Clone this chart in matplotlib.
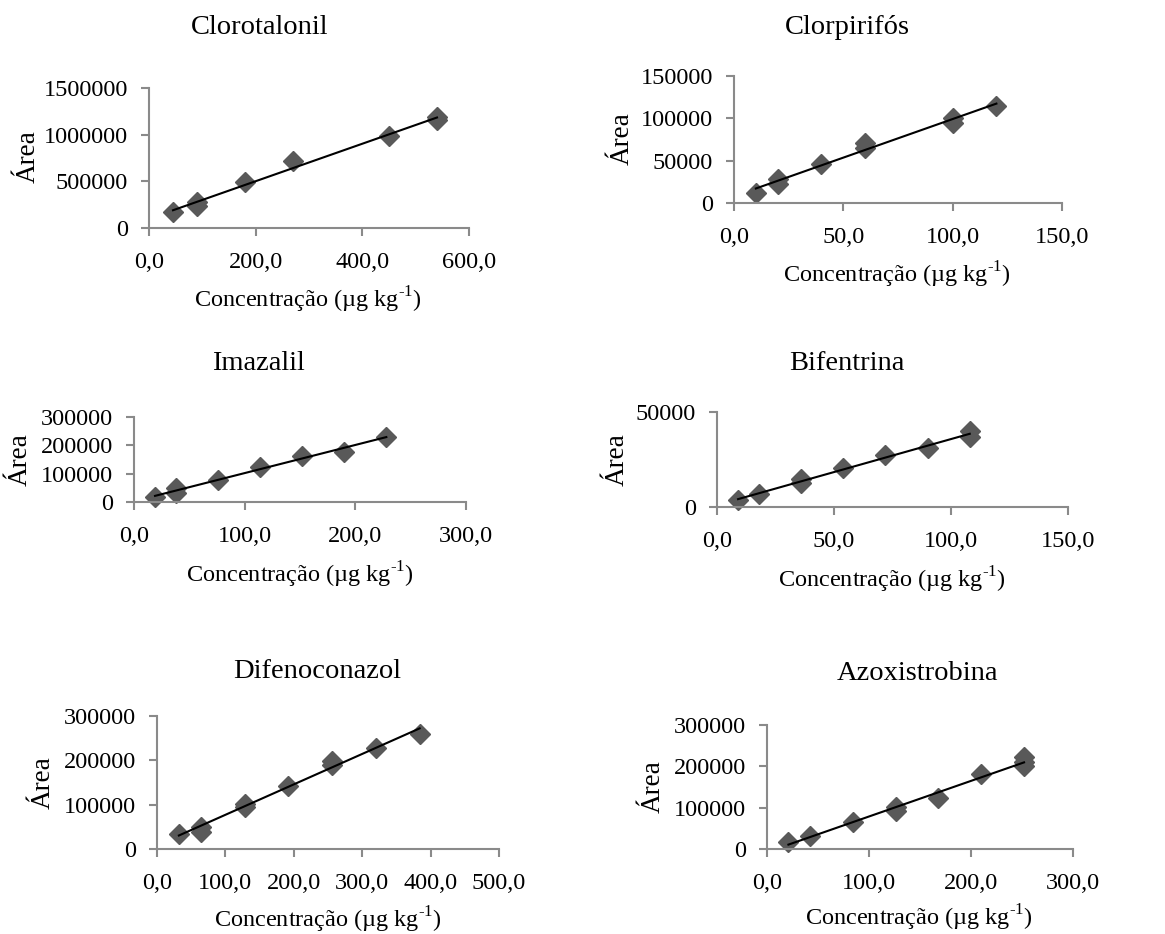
import numpy as np
import matplotlib
matplotlib.use('Agg')
import matplotlib.pyplot as plt
from matplotlib.ticker import FuncFormatter, MultipleLocator

plt.rcParams['font.family'] = ['Liberation Serif', 'DejaVu Serif']
plt.rcParams['mathtext.fontset'] = 'custom'
plt.rcParams['mathtext.rm'] = 'Liberation Serif'

# calibration data: concentration (ug/kg) and peak area, replicates repeated
titles = ['Clorotalonil', 'Clorpirifós', 'Imazalil', 'Bifentrina', 'Difenoconazol', 'Azoxistrobina']

clorotalonil_x = [45, 90, 90, 180, 270, 450, 540, 540]
clorotalonil_y = [171000, 280000, 235000, 490000, 721000, 989000, 1185000, 1155000]

clorpirifos_x = [10, 20, 20, 40, 60, 60, 100, 100, 120]
clorpirifos_y = [11800, 28800, 22000, 46600, 71000, 65500, 99900, 94700, 115000]

imazalil_x = [19, 38, 38, 76, 114, 152, 190, 228]
imazalil_y = [19000, 48000, 31000, 78000, 122000, 164000, 178000, 231000]

bifentrina_x = [9, 18, 36, 36, 54, 72, 90, 108, 108]
bifentrina_y = [3500, 7000, 14500, 12800, 20500, 27500, 31000, 40000, 36800]

difenoconazol_x = [32, 64, 64, 128, 128, 192, 256, 256, 320, 384]
difenoconazol_y = [33000, 50000, 39000, 102000, 95000, 143000, 199000, 190000, 227000, 259000]

azoxistrobina_x = [21, 42, 84, 126, 126, 168, 210, 252, 252, 252]
azoxistrobina_y = [17000, 30600, 65000, 101000, 92000, 124000, 182000, 222000, 210000, 202000]

xs = [clorotalonil_x, clorpirifos_x, imazalil_x, bifentrina_x, difenoconazol_x, azoxistrobina_x]
ys = [clorotalonil_y, clorpirifos_y, imazalil_y, bifentrina_y, difenoconazol_y, azoxistrobina_y]

x_max = [600, 150, 300, 150, 500, 300]
x_step = [200, 50, 100, 50, 100, 100]
y_max = [1500000, 150000, 300000, 50000, 300000, 300000]
y_step = [500000, 50000, 100000, 50000, 100000, 100000]

W, H = 1165, 934

# axes boxes in pixels: left, right, top, bottom
boxes = [(149, 469, 88, 228), (734, 1062, 76, 203),
         (134, 466, 417, 502), (717, 1068, 412, 507),
         (157, 499, 716, 849), (767, 1073, 725, 849)]
title_pos = [(260, 28), (847, 27), (258, 363), (847, 363), (317, 672), (917, 673)]
xlabel_pos = [(308, 300), (897, 275), (300, 575), (892, 580), (328, 920), (919, 918)]
ylabel_pos = [(28, 157), (622, 139), (20, 460), (617, 460), (43, 783), (653, 787)]

xlabel_text = 'Concentração (µg kg$^{\\mathregular{\u2010}\\mathregular{1}}$)'

fig = plt.figure(figsize=(W / 100, H / 100), dpi=100)
axis_gray = '#8a8a8a'

for i in range(6):
    l, r, t, b = boxes[i]
    ax = fig.add_axes([l / W, 1 - b / H, (r - l) / W, (b - t) / H])
    x = np.array(xs[i], dtype=float)
    y = np.array(ys[i], dtype=float)

    ax.plot(x, y, linestyle='none', marker='D', ms=10.5, color='#595959',
            markeredgecolor='#595959', clip_on=False, zorder=2)
    slope, inter = np.polyfit(x, y, 1)
    xl = np.array([x.min(), x.max()])
    ax.plot(xl, slope * xl + inter, color='black', lw=1.5, zorder=3)

    ax.set_xlim(0, x_max[i])
    ax.set_ylim(0, y_max[i])
    ax.xaxis.set_major_locator(MultipleLocator(x_step[i]))
    ax.yaxis.set_major_locator(MultipleLocator(y_step[i]))
    ax.xaxis.set_major_formatter(FuncFormatter(lambda v, p: f'{v:.1f}'.replace('.', ',')))
    ax.yaxis.set_major_formatter(FuncFormatter(lambda v, p: f'{int(round(v))}'))

    for s in ['top', 'right']:
        ax.spines[s].set_visible(False)
    for s in ['left', 'bottom']:
        ax.spines[s].set_color(axis_gray)
        ax.spines[s].set_linewidth(1.5)
    ax.tick_params(direction='out', length=6, width=1.5, color=axis_gray,
                   labelsize=17.5)
    ax.tick_params(axis='x', pad=11)
    ax.tick_params(axis='y', pad=9)
    ax.patch.set_visible(False)

    fig.text(title_pos[i][0] / W, 1 - title_pos[i][1] / H, titles[i],
             fontsize=20.5, ha='center', va='center')
    fig.text(xlabel_pos[i][0] / W, 1 - xlabel_pos[i][1] / H, xlabel_text,
             fontsize=17.5, ha='center', va='center')
    fig.text(ylabel_pos[i][0] / W, 1 - ylabel_pos[i][1] / H, 'Área',
             fontsize=19.5, ha='center', va='center', rotation=90)

fig.savefig('out.png', dpi=100, facecolor='white')
